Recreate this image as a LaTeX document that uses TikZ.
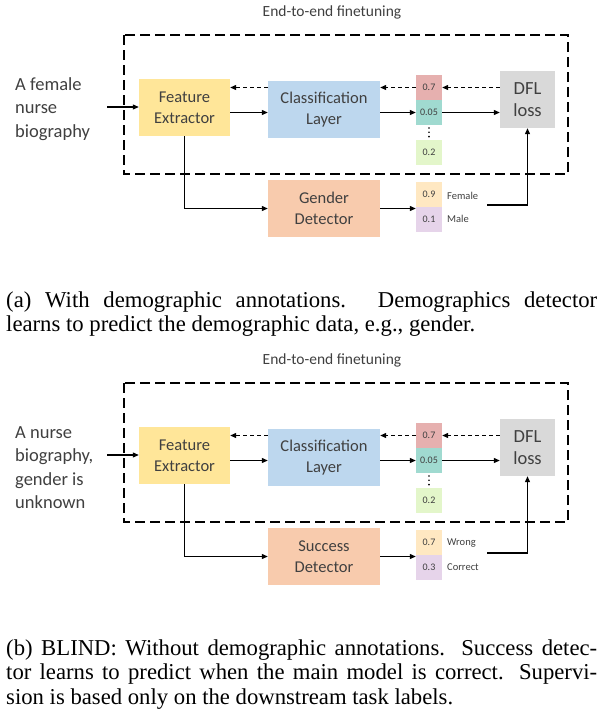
\documentclass[tikz,border=0pt]{standalone}
\usepackage{fontspec}
\setmainfont{Liberation Serif}
\newfontfamily\carlito{Carlito}
\usetikzlibrary{arrows.meta}
\definecolor{txt}{HTML}{404040}
\definecolor{fecol}{HTML}{FFE699}
\definecolor{clcol}{HTML}{BDD7EE}
\definecolor{gdcol}{HTML}{F8CBAD}
\definecolor{dflcol}{HTML}{D9D9D9}
\definecolor{pred}{HTML}{E6B0AF}
\definecolor{pteal}{HTML}{A0DAD0}
\definecolor{pgreen}{HTML}{E3F6CA}
\definecolor{porange}{HTML}{FFE8C2}
\definecolor{ppurple}{HTML}{E6D4EA}
\tikzset{
  boxtext/.style={inner sep=0pt, align=center, text=txt, font=\carlito\fontsize{16.5}{21}\selectfont},
  bigbox/.style={boxtext, minimum width=112pt, minimum height=57pt},
  probbox/.style={inner sep=0pt, minimum width=26pt, minimum height=25pt, text=txt, font=\carlito\fontsize{10}{12}\selectfont},
  problabel/.style={inner sep=0pt, anchor=west, text=txt, font=\carlito\fontsize{10.5}{12}\selectfont},
  arr/.style={line width=1.1pt, -{Triangle[length=6pt,width=5pt]}},
  darr/.style={arr, dash pattern=on 4pt off 3pt},
  dbox/.style={line width=1.8pt, dash pattern=on 10pt off 5pt},
  intext/.style={inner sep=0pt, anchor=north west, align=left, text=txt, font=\carlito\fontsize{18.5}{23.5}\selectfont},
  captext/.style={inner sep=0pt, anchor=north west, text width=591pt, align=justify, font=\fontsize{22.7}{24.5}\selectfont}
}
\newcommand{\drawpanel}[8]{%
\begin{scope}[yshift=#1]
  \node[text=txt, font=\carlito\fontsize{15.5}{18}\selectfont, anchor=base, inner sep=0pt] (title#2) at (332,16) {End-to-end finetuning};
  \draw[dbox] (124,35) rectangle (568,174);
  \node[intext] (in#2) at (15,73.5) {#3};
  \node[boxtext, fill=fecol, minimum width=91pt, minimum height=57pt] (fe#2) at (184.5,107.5) {Feature\\Extractor};
  \node[bigbox, fill=clcol] (cl#2) at (324,109.5) {Classification\\Layer};
  \node[probbox, fill=pred] (pa#2) at (429,87.5) {0.7};
  \node[probbox, fill=pteal] (pb#2) at (429,112.5) {0.05};
  \node[probbox, fill=pgreen] (pc#2) at (429,152.5) {0.2};
  \node[boxtext, fill=dflcol, minimum width=55pt, minimum height=57pt, font=\carlito\fontsize{18.5}{22}\selectfont] (dfl#2) at (527.5,99.5) {DFL\\loss};
  \node[bigbox, fill=gdcol] (gd#2) at (324,208.5) {#4};
  \node[probbox, fill=porange] (pd#2) at (429,194.5) {#5};
  \node[probbox, fill=ppurple] (pe#2) at (429,219.5) {#6};
  \node[problabel] (la#2) at (447,195.5) {#7};
  \node[problabel] (lb#2) at (447,219) {#8};
  \foreach \yy in {128,132.3,136.6} \fill[black] (429,\yy) circle (0.9pt);
  \coordinate (src#2) at (107,107);
  \coordinate (lo#2) at (487,205);
  \draw[arr] (src#2) -- (fe#2.west |- src#2);
  \draw[arr] (fe#2.east |- pb#2) -- (cl#2.west |- pb#2);
  \draw[arr] (cl#2.east |- pb#2) -- (pb#2.west);
  \draw[arr] (pb#2.east) -- (dfl#2.west |- pb#2);
  \draw[darr] (dfl#2.west |- pa#2) -- (pa#2.east);
  \draw[darr] (pa#2.west) -- (cl#2.east |- pa#2);
  \draw[darr] (cl#2.west |- pa#2) -- (fe#2.east |- pa#2);
  \draw[arr] (fe#2.south) |- (gd#2.west);
  \draw[arr] (gd#2.east) -- (gd#2.east -| pd#2.west);
  \draw[arr] (lo#2) -| (dfl#2.south);
\end{scope}}
\begin{document}
\begin{tikzpicture}[x=1pt,y=-1pt]
\useasboundingbox[fill=white] (0,0) rectangle (601,716);
\drawpanel{0pt}{a}{\strut A female\\nurse\\biography}{Gender\\Detector}{0.9}{0.1}{Female}{Male}
\drawpanel{-348pt}{b}{\strut A nurse\\biography,\\gender is\\unknown}{Success\\Detector}{0.7}{0.3}{Wrong}{Correct}
\node[captext] (capa) at (6,289.85) {\strut(a) With demographic annotations.  Demographics detector\linebreak learns to predict the demographic data, e.g., gender.};
\node[captext] (capb) at (6,637.85) {\strut(b) BLIND: Without demographic annotations. Success detec-\linebreak tor learns to predict when the main model is correct. Supervi-\linebreak sion is based only on the downstream task labels.};
\end{tikzpicture}
\end{document}
